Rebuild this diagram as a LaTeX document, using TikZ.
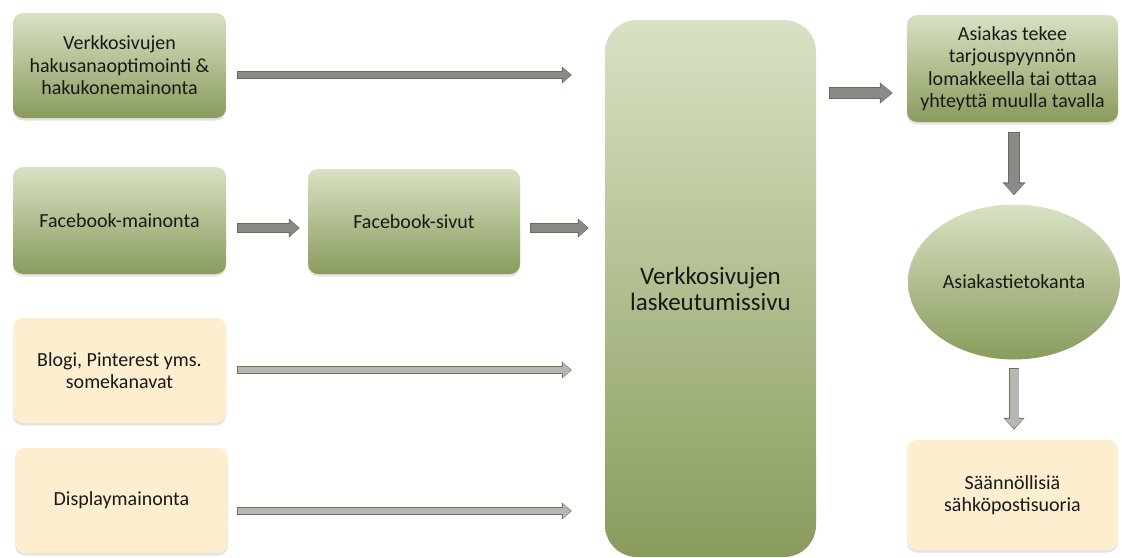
\documentclass[tikz,border=0pt]{standalone}
\usepackage{fontspec}
\setmainfont{Carlito}
\usetikzlibrary{arrows.meta,shapes.geometric,shadows}
\definecolor{gtop}{RGB}{216,226,196}
\definecolor{gbot}{RGB}{137,155,92}
\definecolor{beige}{RGB}{253,238,208}
\definecolor{afill}{RGB}{138,138,138}
\definecolor{aline}{RGB}{100,112,78}
\definecolor{lfill}{RGB}{182,182,182}
\definecolor{lline}{RGB}{104,120,74}
\definecolor{txt}{RGB}{25,25,25}
\tikzset{
  box/.style={rectangle, rounded corners=10pt, minimum width=213pt, minimum height=105pt,
    inner sep=0pt, align=center, text=txt, font=\fontsize{20}{22.5}\selectfont,
    drop shadow={shadow xshift=0pt, shadow yshift=-2.5pt, opacity=0.22}},
  gbox/.style={box, top color=gtop, bottom color=gbot},
  bbox/.style={box, fill=beige},
  barr/.style n args={8}{line width=#3, draw=#1, shorten >=1pt, shorten <=0.8pt,
    -{Triangle[length=#7,width=#5]},
    preaction={draw=#2, line width=#4, shorten >=0pt, shorten <=0pt,
      -{Triangle[length=#8,width=#6]}}},
  longd/.style={barr={afill}{aline}{5.6pt}{7.2pt}{14pt}{16.5pt}{8pt}{10pt}},
  longl/.style={barr={lfill}{lline}{5.6pt}{7.2pt}{14pt}{16.5pt}{8pt}{10pt}},
  shortd/.style={barr={afill}{aline}{8.5pt}{10.1pt}{16pt}{18.5pt}{9pt}{11pt}},
  midd/.style={barr={afill}{aline}{9.5pt}{11.1pt}{18pt}{20.5pt}{11pt}{13pt}},
  vertd/.style={barr={afill}{aline}{10.5pt}{12.1pt}{20pt}{22.5pt}{11pt}{13pt}},
  vertl/.style={barr={lfill}{lline}{9pt}{10.6pt}{18pt}{20.5pt}{10pt}{12pt}},
}
\begin{document}
\begin{tikzpicture}[x=1pt,y=-1pt]
\path[use as bounding box, fill=white] (0,0) rectangle (1122,557);

\node[gbox] (b1) at (119.5,65.5) {Verkkosivujen\\hakusanaoptimointi \&\\hakukonemainonta};
\node[gbox, minimum height=107pt] (b2) at (119.5,220.5) {Facebook-mainonta};
\node[gbox, minimum width=212pt] (b3) at (414,221.5) {Facebook-sivut};
\node[bbox] (b4) at (119.5,370.5) {Blogi, Pinterest yms.\\somekanavat};
\node[bbox] (b5) at (121.5,500.5) {Displaymainonta};

\node[rectangle, rounded corners=32pt, minimum width=211pt, minimum height=537pt,
  inner sep=0pt, align=center, text=txt, font=\fontsize{25}{26}\selectfont,
  top color=gtop, bottom color=gbot] (big) at (710.5,288.5) {Verkkosivujen\\laskeutumissivu};

\node[gbox, minimum width=211pt, minimum height=107pt] (b6) at (1012.5,68.5)
  {Asiakas tekee\\tarjouspyynnön\\lomakkeella tai ottaa\\yhteyttä muulla tavalla};
\node[ellipse, minimum width=212pt, minimum height=155pt, inner sep=0pt,
  top color=gtop, bottom color=gbot, text=txt, font=\fontsize{20}{22.5}\selectfont] (ell) at (1014,282) {Asiakastietokanta};
\node[bbox, minimum width=211pt, minimum height=110pt] (b7) at (1012.5,495) {Säännöllisiä\\sähköpostisuoria};

\draw[longd] ([xshift=11pt]b1.east |- 0,75) -- ([xshift=-33pt]big.west |- 0,75);
\draw[shortd] ([xshift=11pt]b2.east |- 0,228) -- ([xshift=-8pt]b3.west |- 0,228);
\draw[shortd] ([xshift=10pt]b3.east |- 0,228) -- ([xshift=-16pt]big.west |- 0,228);
\draw[longl] ([xshift=11pt]b4.east |- 0,370) -- ([xshift=-33pt]big.west |- 0,370);
\draw[longl] ([xshift=9pt]b5.east |- 0,511) -- ([xshift=-33pt]big.west |- 0,511);
\draw[midd] ([xshift=13pt]big.east |- 0,93) -- ([xshift=-14pt]b6.west |- 0,93);
\draw[vertd] ([yshift=-10pt]b6.south -| 1014,0) -- ([yshift=9pt]ell.north);
\draw[vertl] ([yshift=-8pt]ell.south) -- ([yshift=10pt]b7.north -| 1014,0);
\end{tikzpicture}
\end{document}
